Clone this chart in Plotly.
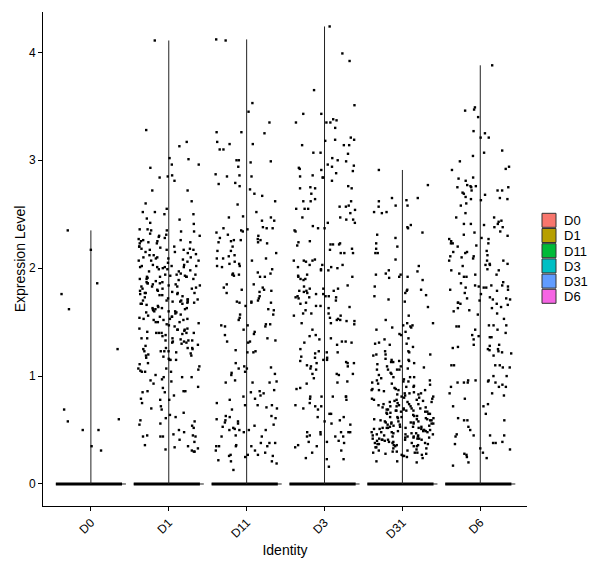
import numpy as np
import plotly.graph_objects as go

categories = ["D0", "D1", "D11", "D3", "D31", "D6"]
colors = ["#F8766D", "#B79F00", "#00BA38", "#00BFC4", "#619CFF", "#F564E3"]
y_ticks = [0, 1, 2, 3, 4]

D0_vals = [2.35, 2.17, 1.86, 1.76, 1.62, 1.25, 0.69, 0.58, 0.60, 0.50, 0.50, 0.35, 0.31]

D1_vals = [4.11, 3.28, 3.17, 3.13, 3.02, 3.01, 2.96, 2.96, 2.93, 2.86, 2.85, 2.84, 2.81, 2.72, 2.72,
           2.62, 2.60, 2.55, 2.52, 2.52, 2.50, 2.50, 2.46, 2.45, 2.42, 2.41,
           2.35, 2.36, 2.32, 2.30, 2.35, 2.34, 2.34, 2.29, 2.27, 2.36, 2.30, 2.31, 2.26, 2.25, 2.23,
           2.24, 2.20, 2.23, 2.25, 2.26, 2.24, 2.20, 2.18, 2.17, 2.15, 2.17, 2.17, 2.18, 2.15, 2.17,
           2.20, 2.14, 2.12, 2.10, 2.07, 2.09, 2.08, 2.09, 2.10, 2.07, 2.10, 2.12, 2.07, 2.02, 1.99,
           2.01, 2.01, 2.03, 2.01, 2.02, 2.00, 2.03, 1.98, 2.01, 2.02, 1.97, 1.95, 1.92, 1.94, 1.92,
           1.94, 1.90, 1.94, 1.92, 1.90, 1.93, 1.90, 1.92, 1.86, 1.84, 1.87, 1.85, 1.86, 1.83, 1.81,
           1.83, 1.86, 1.84, 1.81, 1.85, 1.83, 1.79, 1.77, 1.78, 1.76, 1.79, 1.77, 1.75, 1.77, 1.80,
           1.75, 1.77, 1.73, 1.70, 1.69, 1.71, 1.68, 1.70, 1.67, 1.71, 1.69, 1.66, 1.70, 1.67, 1.71,
           1.67, 1.69, 1.62, 1.60, 1.63, 1.61, 1.59, 1.63, 1.60, 1.62, 1.58, 1.60, 1.63, 1.59, 1.55,
           1.52, 1.50, 1.53, 1.52, 1.55, 1.50, 1.53, 1.52, 1.49, 1.53, 1.50, 1.55, 1.44, 1.41, 1.44,
           1.40, 1.43, 1.40, 1.43, 1.40, 1.43, 1.40, 1.42, 1.40, 1.35, 1.33, 1.34, 1.32, 1.35, 1.31,
           1.33, 1.32, 1.35, 1.31, 1.33, 1.30, 1.26, 1.23, 1.25, 1.23, 1.26, 1.23, 1.25, 1.22, 1.26,
           1.23, 1.21, 1.17, 1.15, 1.18, 1.15, 1.16, 1.19, 1.15, 1.19, 1.20, 1.07, 1.04, 1.07, 1.06,
           1.05, 1.09, 1.04, 1.04, 0.99, 0.96, 0.99, 0.95, 1.01, 0.93, 0.99, 0.86, 0.85, 0.89, 0.86,
           0.90, 0.85, 0.86, 0.78, 0.78, 0.75, 0.79, 0.70, 0.69, 0.66, 0.62, 0.55, 0.59, 0.61, 0.54,
           0.58, 0.56, 0.45, 0.44, 0.44, 0.48, 0.44, 0.45, 0.46, 0.44, 0.50, 0.35, 0.30, 0.32, 0.36,
           0.30, 0.31, 0.33, 0.34, 0.41, 0.72, 1.97, 1.88, 1.74, 1.65, 1.57, 1.47, 1.38, 1.29, 1.12,
           2.05, 1.91, 1.82, 1.72, 1.64, 1.56, 1.46, 1.37, 1.28, 1.11, 0.97, 0.82, 0.64, 0.52, 0.39,
           2.13, 2.06, 1.99, 1.93, 1.87, 1.81, 1.76, 1.68, 1.62, 1.54, 1.48, 1.39, 2.28, 2.19, 1.89]

D11_vals = [4.11, 4.12, 3.53, 3.45, 3.35, 3.26, 3.25, 3.26, 3.17, 3.15, 3.15, 3.10, 3.10, 3.00, 3.00,
            2.98, 2.99, 2.94, 2.85, 2.85, 2.87, 2.86, 2.79, 2.76, 2.78, 2.73, 2.69, 2.67, 2.62, 2.59,
            2.52, 2.48, 2.47, 2.47, 2.44, 2.44, 2.37, 2.37, 2.37, 2.33, 2.31, 2.35, 2.30, 2.34, 2.36,
            2.38, 2.28, 2.27, 2.24, 2.25, 2.26, 2.24, 2.26, 2.26, 2.23, 2.20, 2.16, 2.16, 2.09, 2.09,
            2.09, 2.14, 2.11, 2.12, 2.07, 2.06, 2.04, 2.01, 2.02, 2.02, 2.04, 1.99, 1.95, 1.94, 1.96,
            1.95, 1.93, 1.94, 1.92, 1.92, 1.85, 1.77, 1.85, 1.82, 1.78, 1.79, 1.80, 1.80, 1.82, 1.68,
            1.72, 1.69, 1.70, 1.68, 1.69, 1.68, 1.65, 1.74, 1.61, 1.62, 1.54, 1.52, 1.57, 1.57, 1.46,
            1.47, 1.43, 1.47, 1.48, 1.48, 1.46, 1.39, 1.41, 1.38, 1.35, 1.32, 1.33, 1.32, 1.31, 1.24,
            1.23, 1.22, 1.22, 1.12, 1.07, 1.07, 1.08, 1.09, 1.04, 1.03, 1.01, 1.02, 0.96, 0.94, 0.94,
            0.95, 0.94, 0.87, 0.84, 0.85, 0.86, 0.82, 0.81, 0.79, 0.78, 0.75, 0.73, 0.73, 0.73, 0.69,
            0.71, 0.70, 0.63, 0.61, 0.59, 0.63, 0.62, 0.56, 0.53, 0.57, 0.60, 0.55, 0.58, 0.54, 0.48,
            0.44, 0.50, 0.50, 0.50, 0.44, 0.52, 0.50, 0.51, 0.45, 0.35, 0.36, 0.35, 0.35, 0.35, 0.31,
            0.35, 0.38, 0.31, 0.38, 0.38, 0.26, 0.26, 0.27, 0.27, 0.27, 0.29, 0.21, 0.25, 0.22, 0.13,
            0.19, 0.21]

D3_vals = [4.24, 3.99, 3.92, 3.65, 3.51, 3.43, 3.43, 3.35, 3.35, 3.37, 3.30, 3.35, 3.38, 3.21, 3.19,
           3.19, 3.18, 3.14, 3.14, 3.14, 3.07, 3.06, 3.07, 3.02, 2.99, 3.00, 2.94, 2.95, 2.93, 2.92,
           2.96, 2.90, 2.88, 2.86, 2.85, 2.91, 2.84, 2.84, 2.81, 2.75, 2.76, 2.69, 2.74, 2.74, 2.74,
           2.62, 2.62, 2.62, 2.64, 2.57, 2.55, 2.58, 2.55, 2.55, 2.57, 2.54, 2.45, 2.47, 2.51, 2.42,
           2.42, 2.47, 2.45, 2.37, 2.39, 2.37, 2.34, 2.35, 2.25, 2.22, 2.23, 2.14, 2.14, 2.18, 2.22,
           2.22, 2.17, 2.24, 2.21, 2.14, 2.06, 2.03, 2.03, 2.07, 1.98, 1.99, 2.01, 2.03, 2.07, 2.08,
           2.00, 2.07, 1.98, 2.01, 1.92, 1.90, 1.92, 1.90, 1.94, 1.89, 1.93, 1.79, 1.77, 1.76, 1.79,
           1.76, 1.78, 1.79, 1.81, 1.83, 1.81, 1.84, 1.81, 1.68, 1.73, 1.74, 1.65, 1.65, 1.70, 1.72,
           1.73, 1.73, 1.74, 1.74, 1.64, 1.67, 1.61, 1.63, 1.58, 1.51, 1.48, 1.54, 1.56, 1.52, 1.49,
           1.49, 1.43, 1.38, 1.58, 1.56, 1.51, 1.53, 1.52, 1.58, 1.34, 1.31, 1.35, 1.32, 1.32, 1.31,
           1.37, 1.29, 1.18, 1.22, 1.14, 1.15, 1.17, 1.17, 1.21, 1.22, 1.15, 1.23, 1.25, 1.09, 1.13,
           1.12, 1.12, 1.12, 1.09, 1.10, 1.07, 1.02, 1.02, 1.02, 1.06, 1.01, 0.94, 0.93, 0.95, 0.98,
           0.89, 0.88, 0.81, 0.81, 0.81, 0.81, 0.79, 0.81, 0.73, 0.75, 0.70, 0.72, 0.72, 0.69, 0.78,
           0.65, 0.65, 0.62, 0.62, 0.58, 0.59, 0.55, 0.56, 0.48, 0.45, 0.48, 0.48, 0.44, 0.48, 0.46,
           0.48, 0.39, 0.38, 0.39, 0.44, 0.35, 0.36, 0.44, 0.40, 0.34, 0.29, 0.31, 0.24, 0.23, 0.23,
           0.16]

D31_vals = [2.91, 2.77, 2.65, 2.63, 2.65, 2.58, 2.58, 2.57, 2.62, 2.52, 2.51, 2.52, 2.40, 2.38, 2.37,
            2.33, 2.31, 2.28, 2.23, 2.20, 2.18, 2.14, 2.14, 2.08, 2.02, 1.98, 1.97, 1.95, 1.91, 1.94,
            1.94, 1.92, 1.92, 1.89, 1.83, 1.80, 1.79, 1.80, 1.74, 1.75, 1.71, 1.77, 1.69, 1.64, 1.56,
            1.49, 1.52, 1.47, 1.49, 1.47, 1.46, 1.41, 1.45, 1.45, 1.43, 1.38, 1.39, 1.34, 1.30, 1.27,
            1.31, 1.29, 1.30, 1.35, 1.20, 1.16, 1.14, 1.06, 1.19, 1.20, 1.20, 1.22, 1.23, 1.23, 1.13,
            1.13, 1.09, 1.07, 1.15, 1.12, 1.06, 1.06, 1.09, 1.15, 1.14, 1.06, 1.03, 1.11, 0.95, 0.93,
            0.95, 0.99, 0.99, 0.98, 0.99, 0.96, 0.96, 0.90, 0.87, 0.84, 0.88, 0.87, 0.90, 0.87, 0.87,
            0.84, 0.89, 0.84, 0.80, 0.79, 0.78, 0.76, 0.72, 0.70, 0.78, 0.75, 0.79, 0.70, 0.78, 0.73,
            0.72, 0.73, 0.72, 0.69, 0.70, 0.69, 0.68, 0.65, 0.67, 0.65, 0.69, 0.65, 0.67, 0.68, 0.60,
            0.58, 0.56, 0.61, 0.59, 0.60, 0.57, 0.59, 0.56, 0.61, 0.58, 0.59, 0.56, 0.60, 0.57, 0.61,
            0.56, 0.53, 0.51, 0.48, 0.52, 0.50, 0.53, 0.49, 0.52, 0.48, 0.53, 0.49, 0.52, 0.48, 0.51,
            0.48, 0.52, 0.45, 0.43, 0.41, 0.44, 0.42, 0.45, 0.41, 0.44, 0.41, 0.45, 0.42, 0.44, 0.41,
            0.44, 0.41, 0.38, 0.36, 0.38, 0.34, 0.36, 0.37, 0.39, 0.35, 0.38, 0.35, 0.37, 0.35, 0.30,
            0.26, 0.28, 0.29, 0.28, 0.27, 0.29, 0.27, 0.30, 0.25, 0.21, 0.20, 0.21,
            0.92, 0.88, 0.83, 0.81, 0.77, 0.74, 0.71, 0.66, 0.63, 0.62, 0.55, 0.54, 0.50, 0.47, 0.46,
            0.43, 0.40, 0.37, 0.33, 0.32, 0.91, 0.85, 0.82, 0.76, 0.74, 0.68, 0.64, 0.62, 0.57, 0.55,
            0.51, 0.47, 0.46, 0.42, 0.39, 0.34, 0.31, 1.02, 0.97, 0.93, 0.86, 0.80, 0.77, 0.71, 0.66,
            0.63, 0.54, 0.50, 0.47, 0.43, 0.40, 0.36, 0.33, 0.29, 1.08, 1.01, 0.94, 0.83, 0.76, 0.67,
            0.58, 0.49, 0.42, 0.38, 0.31, 0.26, 0.24, 0.57, 0.53, 0.46, 0.62, 0.68, 0.74, 0.81, 0.52]

D6_vals = [3.88, 3.49, 3.47, 3.46, 3.40, 3.25, 3.27, 3.21, 3.21, 3.09, 3.07, 3.04, 2.94, 2.99, 2.91,
           2.92, 2.81, 2.83, 2.84, 2.76, 2.75, 2.72, 2.77, 2.75, 2.70, 2.75, 2.76, 2.72, 2.72, 2.64,
           2.63, 2.65, 2.66, 2.64, 2.68, 2.69, 2.60, 2.58, 2.51, 2.44, 2.43, 2.47, 2.41, 2.47, 2.38,
           2.40, 2.38, 2.41, 2.41, 2.34, 2.33, 2.31, 2.25, 2.23, 2.27, 2.27, 2.28, 2.30, 2.23, 2.20,
           2.23, 2.21, 2.09, 2.07, 2.15, 2.10, 2.04, 2.11, 2.14, 2.11, 2.07, 2.15, 2.16, 2.12, 2.07,
           2.04, 1.99, 1.98, 2.03, 2.03, 2.02, 1.94, 1.92, 1.87, 1.92, 1.95, 1.98, 1.94, 1.84, 1.84,
           1.84, 1.83, 1.82, 1.82, 1.80, 1.82, 1.79, 1.80, 1.86, 1.83, 1.77, 1.76, 1.72, 1.73, 1.70,
           1.71, 1.71, 1.66, 1.67, 1.68, 1.72, 1.68, 1.67, 1.64, 1.63, 1.60, 1.61, 1.63, 1.58, 1.57,
           1.47, 1.47, 1.53, 1.46, 1.47, 1.43, 1.40, 1.43, 1.46, 1.37, 1.38, 1.34, 1.29, 1.28, 1.36,
           1.36, 1.27, 1.26, 1.29, 1.22, 1.24, 1.23, 1.25, 1.25, 1.21, 1.19, 1.08, 1.08, 1.10, 1.10,
           1.10, 1.10, 1.00, 0.94, 0.96, 0.94, 0.96, 0.90, 0.90, 0.94, 0.94, 0.90, 0.84, 0.96, 0.95,
           0.92, 1.00, 0.79, 0.84, 0.82, 0.74, 0.72, 0.72, 0.65, 0.59, 0.59, 0.59, 0.61, 0.53, 0.50,
           0.45, 0.45, 0.46, 0.45, 0.44, 0.38, 0.39, 0.37, 0.33, 0.28, 0.25, 0.38, 0.32, 0.27, 0.29,
           0.20, 0.17, 0.24]

series = [D0_vals, D1_vals, D11_vals, D3_vals, D31_vals, D6_vals]

# panel geometry in pixels (fixed margins)
W, H = 600, 568
L, R, T, B = 43, 73, 12, 62
PW, PH = W - L - R, H - T - B


def px_x(p):
    return (p - L) / PW


def px_y(p):
    return (H - B - p) / PH


fig = go.Figure()

# violin remnants: thin outline at zero, thick band of zero-valued cells, vertical spine to max
for i, vals in enumerate(series):
    fig.add_trace(go.Scatter(x=[i - 0.45, i + 0.45], y=[0, 0], mode="lines",
                             line=dict(color="#222222", width=1), showlegend=False, hoverinfo="skip"))
    fig.add_trace(go.Scatter(x=[i - 0.45, i + 0.40], y=[0, 0], mode="lines",
                             line=dict(color="#000000", width=3), showlegend=False, hoverinfo="skip"))
    fig.add_trace(go.Scatter(x=[i, i], y=[0, max(vals)], mode="lines",
                             line=dict(color="#222222", width=1), showlegend=False, hoverinfo="skip"))

# jittered points (jitter width 0.4 like geom_jitter)
rng = np.random.default_rng(11)
for i, vals in enumerate(series):
    jit = rng.uniform(-0.4, 0.4, len(vals))
    fig.add_trace(go.Scatter(x=i + jit, y=vals, mode="markers",
                             marker=dict(symbol="square", size=2.4, color="black", line=dict(width=0)),
                             showlegend=False, name=categories[i]))

# legend keys (drawn to match ggplot key size/spacing)
shapes = []
annotations = []
key_top = 213.3
key_step = 15.2
for k, (c, col) in enumerate(zip(categories, colors)):
    y0 = key_top + k * key_step
    shapes.append(dict(type="rect", xref="paper", yref="paper",
                       x0=px_x(542), x1=px_x(556), y0=px_y(y0 + 14), y1=px_y(y0),
                       fillcolor=col, line=dict(color="#333333", width=1)))
    annotations.append(dict(text=c, xref="paper", yref="paper", x=px_x(562), y=px_y(y0 + 7.5),
                            xanchor="left", yanchor="middle", showarrow=False,
                            font=dict(size=13, color="black")))

fig.update_layout(
    width=W, height=H,
    margin=dict(l=L, r=R, t=T, b=B, autoexpand=False),
    paper_bgcolor="white", plot_bgcolor="white",
    font=dict(family="Liberation Sans, Arial, sans-serif", color="black", size=12),
    showlegend=False,
    shapes=shapes,
    annotations=annotations,
    xaxis=dict(range=[-0.615, 5.6], tickmode="array", tickvals=list(range(len(categories))),
               ticktext=categories, tickangle=-45, showgrid=False, zeroline=False,
               showline=True, linecolor="black", linewidth=1,
               ticks="outside", ticklen=4, tickcolor="black",
               tickfont=dict(size=12, color="black"),
               title=dict(text="Identity", font=dict(size=14), standoff=4)),
    yaxis=dict(range=[-0.204, 4.374], tickmode="array", tickvals=y_ticks,
               showgrid=False, zeroline=False, showline=True, linecolor="black", linewidth=1,
               ticks="outside", ticklen=4, tickcolor="black",
               tickfont=dict(size=12, color="black"),
               title=dict(text="Expression Level", font=dict(size=14), standoff=0)),
)

fig.write_html("out.html")
